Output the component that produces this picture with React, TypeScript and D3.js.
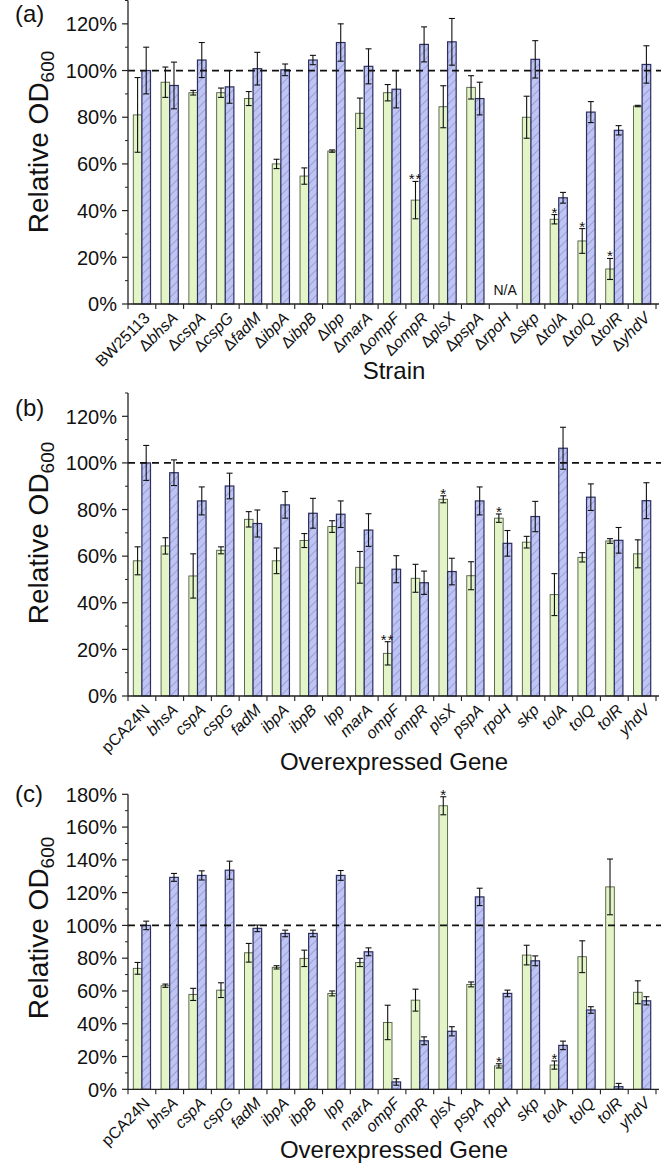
import React from "react";
import * as d3 from "d3";

const CATS_A = ["BW25113","ΔbhsA","ΔcspA","ΔcspG","ΔfadM","ΔibpA","ΔibpB","Δlpp","ΔmarA","ΔompF","ΔompR","ΔplsX","ΔpspA","ΔrpoH","Δskp","ΔtolA","ΔtolQ","ΔtolR","ΔyhdV"];
const CATS_BC = ["pCA24N","bhsA","cspA","cspG","fadM","ibpA","ibpB","lpp","marA","ompF","ompR","plsX","pspA","rpoH","skp","tolA","tolQ","tolR","yhdV"];

const A_GREEN = [81,95,90.5,90.5,88,60,54.8,65.5,81.7,90.5,44.5,84.5,92.8,null,80,36.3,27,15,84.8];
const A_GREEN_ERR = [16,6.5,1,2,3,2,3.5,0.5,6.5,3.5,8,9,5,null,9,2,5.3,4.5,0.3];
const A_BLUE = [100,93.6,104.5,93,100.8,100.3,104.5,112,101.8,92,111.2,112.3,88,null,104.8,45.5,82.2,74.4,102.6];
const A_BLUE_ERR = [10,10,7.5,7,7,2.5,2,8,7.5,8,7.5,10,7,null,8,2.3,4.5,2,8];
const A_STARS = [["ΔompR","**"],["ΔtolA","*"],["ΔtolQ","*"],["ΔtolR","*"]];

const B_GREEN = [58,64.4,51.5,62.5,75.8,58,66.7,72.7,55.2,18.3,50.5,84.4,51.6,76.3,66,43.5,59.5,66.5,61];
const B_GREEN_ERR = [6,3.5,9.5,1.5,3.3,5.5,3,2.5,6.8,5,6,1.5,6,1.8,2.5,9,2,1,6];
const B_BLUE = [100,95.8,83.7,90.1,74,82,78.4,78,71.2,54.4,48.6,53.4,83.7,65.5,77,106.3,85.3,66.8,83.8];
const B_BLUE_ERR = [7.5,5.5,6,5.5,5.8,5.7,6.4,5.7,7,5.8,5,5.7,6,5.5,6.5,9,5.7,5.5,7.7];
const B_STARS = [["ompF","**"],["plsX","*"],["rpoH","*"]];

const C_GREEN = [73.8,63.2,57.9,60.5,83.3,74.4,79.9,58.5,77.4,40.8,54.4,173,64,14.3,81.9,14.8,80.9,123.5,59.2];
const C_GREEN_ERR = [3.6,1,3.7,4.5,5.7,1,5,1.5,2.5,10.5,6.7,5.5,1.5,1.3,6,2.5,9.7,17,7];
const C_BLUE = [100,129.3,130.5,133.7,98.2,95.1,95.1,130.5,83.9,4.5,29.6,35.4,117.4,58.5,78.4,26.8,48.4,1.6,54];
const C_BLUE_ERR = [2.6,2.4,2.8,5.5,2,2,2,3,2.4,2,2.4,2.8,5.3,2,3,2.6,2,2,2.5];
const C_STARS = [["plsX","*"],["rpoH","*"],["tolA","*"]];

const FONT = "'Liberation Sans', Arial, Helvetica, sans-serif";
const GREEN_FILL = "#e3f5c6";
const GREEN_STROKE = "#4f5d44";
const BLUE_FILL = "#bec4f3";
const BLUE_STROKE = "#2c2f5e";
const HATCH = "#6e75b6";

const X0 = 128;
const X1 = 656;
const BAR_W = 8.6;

function CatLabel({ text }: { text: string }) {
  if (text.startsWith("Δ")) {
    return (
      <>
        <tspan>Δ</tspan>
        <tspan fontStyle="italic">{text.slice(1)}</tspan>
      </>
    );
  }
  if (text === "pCA24N" || text === "BW25113") return <tspan>{text}</tspan>;
  return <tspan fontStyle="italic">{text}</tspan>;
}

type PanelProps = {
  cats: string[];
  green: (number | null)[];
  greenErr: (number | null)[];
  blue: (number | null)[];
  blueErr: (number | null)[];
  stars: string[][];
  yMax: number;
  tickMax: number;
  yBottom: number;
  yTop: number;
  xTitle: string;
  xTitleY: number;
  label: string;
  labelY: number;
  yTitleCy: number;
  naCat?: string;
};

function Panel(p: PanelProps) {
  const x = d3.scaleBand<string>().domain(p.cats).range([X0, X1]).paddingInner(0).paddingOuter(0);
  const y = d3.scaleLinear().domain([0, p.yMax]).range([p.yBottom, p.yTop]);
  const major = d3.range(0, p.tickMax + 1, 20);
  const minor = d3.range(10, p.yMax + 0.1, 20);
  const bw = x.bandwidth();
  const boundaries = d3.range(0, p.cats.length + 1).map((i) => X0 + i * bw);

  const errBar = (cx: number, v: number, e: number, key: string) => {
    const yt = y(v + e);
    const yb = y(Math.max(0, v - e));
    const cap = 3;
    return (
      <g key={key} stroke="#111" strokeWidth={1.1}>
        <line x1={cx} x2={cx} y1={yt} y2={yb} />
        <line x1={cx - cap} x2={cx + cap} y1={yt} y2={yt} />
        <line x1={cx - cap} x2={cx + cap} y1={yb} y2={yb} />
      </g>
    );
  };

  return (
    <g>
      {p.cats.map((c, i) => {
        const cx = (x(c) as number) + bw / 2;
        const g = p.green[i];
        const b = p.blue[i];
        const ge = p.greenErr[i];
        const be = p.blueErr[i];
        return (
          <g key={c}>
            {g != null && (
              <rect x={cx - BAR_W} y={y(g)} width={BAR_W} height={y(0) - y(g)} fill={GREEN_FILL} stroke={GREEN_STROKE} strokeWidth={0.9} />
            )}
            {b != null && (
              <>
                <rect x={cx} y={y(b)} width={BAR_W} height={y(0) - y(b)} fill={BLUE_FILL} />
                <rect x={cx} y={y(b)} width={BAR_W} height={y(0) - y(b)} fill="url(#hatch)" stroke={BLUE_STROKE} strokeWidth={1.2} />
              </>
            )}
            {g != null && ge != null && errBar(cx - BAR_W / 2, g, ge, c + "ge")}
            {b != null && be != null && errBar(cx + BAR_W / 2, b, be, c + "be")}
          </g>
        );
      })}
      {p.stars.map(([c, s]) => {
        const i = p.cats.indexOf(c);
        const cx = (x(c) as number) + bw / 2 - BAR_W / 2;
        const top = y((p.green[i] as number) + (p.greenErr[i] as number));
        return (
          <text key={"s" + c} x={cx} y={top + 3} textAnchor="middle" fontSize={15} letterSpacing={s.length > 1 ? 1 : 0} fontFamily={FONT} fill="#111">
            {s}
          </text>
        );
      })}
      {p.naCat && (
        <text x={(x(p.naCat) as number) + bw / 2 + 2} y={y(0) - 9} textAnchor="middle" fontSize={14} fontFamily={FONT} fill="#111">
          N/A
        </text>
      )}
      <line x1={X0} x2={661} y1={y(100)} y2={y(100)} stroke="#111" strokeWidth={1.8} strokeDasharray="7,5" />
      <line x1={X0} x2={X0} y1={p.yTop} y2={y(0)} stroke="#222" strokeWidth={1.3} />
      {major.map((t) => (
        <g key={"mj" + t}>
          <line x1={X0 - 6} x2={X0} y1={y(t)} y2={y(t)} stroke="#222" strokeWidth={1.2} />
          <text x={117} y={y(t)} dy="0.36em" textAnchor="end" fontSize={20} fontFamily={FONT} fill="#111">
            {t + "%"}
          </text>
        </g>
      ))}
      {minor.map((t) => (
        <line key={"mn" + t} x1={X0 - 3} x2={X0} y1={y(t)} y2={y(t)} stroke="#222" strokeWidth={1} />
      ))}
      <line x1={X0} x2={659} y1={y(0)} y2={y(0)} stroke="#222" strokeWidth={1.3} />
      {boundaries.map((bx, i) => (
        <line key={"xt" + i} x1={bx} x2={bx} y1={y(0)} y2={y(0) + 5} stroke="#222" strokeWidth={1.1} />
      ))}
      {p.cats.map((c) => {
        const cx = (x(c) as number) + bw / 2;
        const ax = cx + 9;
        const ay = y(0) + 15;
        return (
          <text key={"xl" + c} x={ax} y={ay} transform={`rotate(-45 ${ax} ${ay})`} textAnchor="end" fontSize={16} fontFamily={FONT} fill="#111">
            <CatLabel text={c} />
          </text>
        );
      })}
      <text x={(X0 + X1) / 2 + 2} y={p.xTitleY} textAnchor="middle" fontSize={24} fontFamily={FONT} fill="#111">
        {p.xTitle}
      </text>
      <text transform={`translate(48 ${p.yTitleCy}) rotate(-90)`} textAnchor="middle" fontSize={28} fontFamily={FONT} fill="#111">
        Relative OD
        <tspan fontSize={19} dy={6}>600</tspan>
      </text>
      <text x={15} y={p.labelY} fontSize={24} fontFamily={FONT} fill="#111">
        {p.label}
      </text>
    </g>
  );
}

export default function App() {
  return (
    <svg width={661} height={1166} style={{ position: "absolute", left: 0, top: 0, background: "#fff" }} xmlns="http://www.w3.org/2000/svg">
      <defs>
        <pattern id="hatch" patternUnits="userSpaceOnUse" width={6} height={6} patternTransform="rotate(45)">
          <line x1={0} y1={0} x2={0} y2={6} stroke={HATCH} strokeWidth={0.9} />
        </pattern>
      </defs>
      <rect x={0} y={0} width={661} height={1166} fill="#fff" />
      <Panel cats={CATS_A} green={A_GREEN} greenErr={A_GREEN_ERR} blue={A_BLUE} blueErr={A_BLUE_ERR} stars={A_STARS}
        yMax={130} tickMax={120} yBottom={304} yTop={0.5} xTitle="Strain" xTitleY={379} label="(a)" labelY={22} yTitleCy={142} naCat="ΔrpoH" />
      <Panel cats={CATS_BC} green={B_GREEN} greenErr={B_GREEN_ERR} blue={B_BLUE} blueErr={B_BLUE_ERR} stars={B_STARS}
        yMax={130} tickMax={120} yBottom={696} yTop={393} xTitle="Overexpressed Gene" xTitleY={770} label="(b)" labelY={416} yTitleCy={533} />
      <Panel cats={CATS_BC} green={C_GREEN} greenErr={C_GREEN_ERR} blue={C_BLUE} blueErr={C_BLUE_ERR} stars={C_STARS}
        yMax={180} tickMax={180} yBottom={1089.3} yTop={794.3} xTitle="Overexpressed Gene" xTitleY={1158} label="(c)" labelY={802} yTitleCy={928} />
    </svg>
  );
}
